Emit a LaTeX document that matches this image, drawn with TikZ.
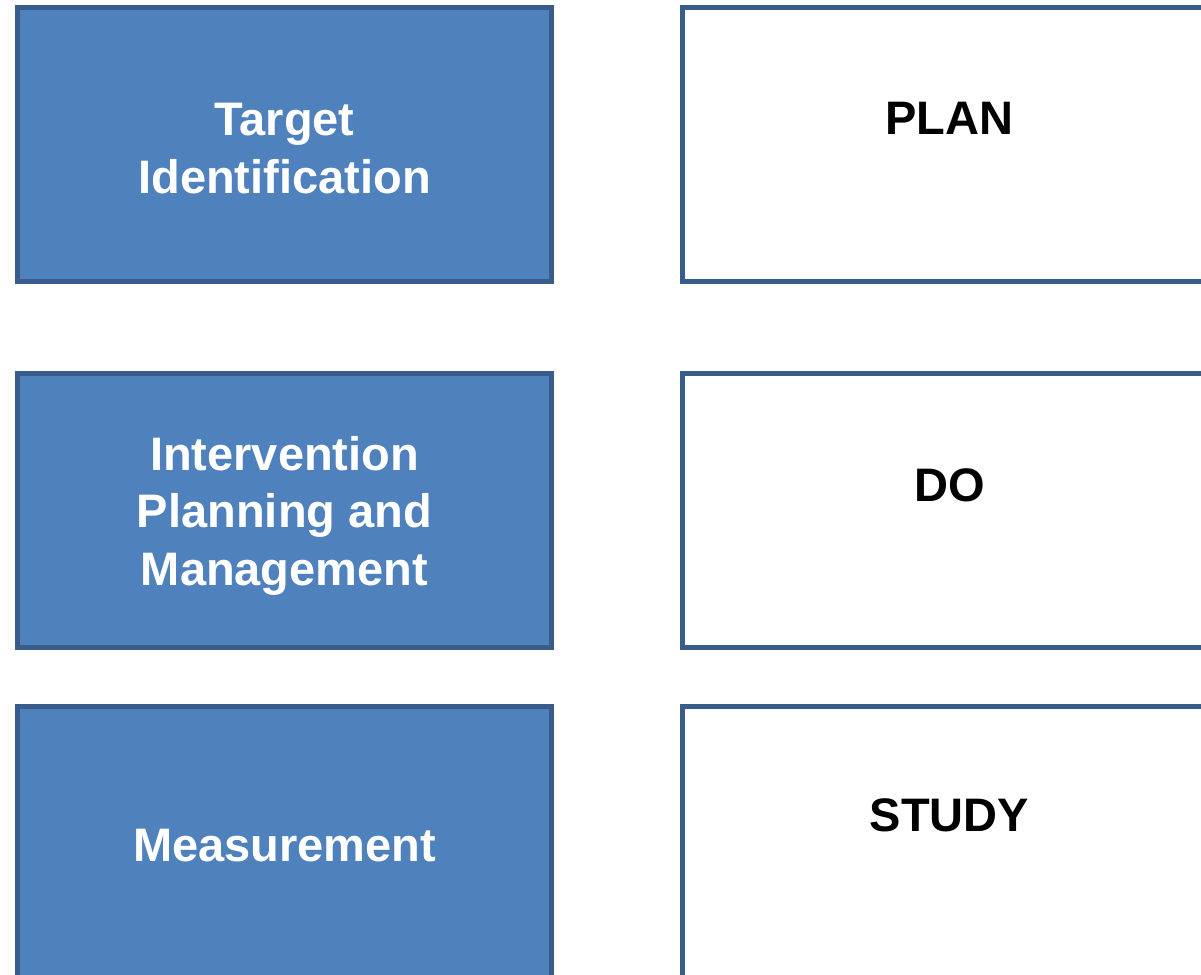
\documentclass[tikz,border=0pt]{standalone}
\usepackage{fontspec}
\setmainfont{Liberation Sans}
\definecolor{boxfill}{HTML}{4F81BD}
\definecolor{boxline}{HTML}{385D8A}
\begin{document}
\begin{tikzpicture}[x=1pt,y=1pt,
  stage/.style={rectangle, draw=boxline, line width=5pt, fill=boxfill, minimum width=534pt, minimum height=274pt, inner sep=0pt},
  stagetxt/.style={text=white, align=center, font=\fontsize{47}{57.5}\selectfont\bfseries},
  phase/.style={rectangle, draw=boxline, line width=5pt, fill=white, minimum width=534pt, minimum height=274pt, inner sep=0pt},
  phasetxt/.style={text=black, font=\fontsize{47}{57.5}\selectfont\bfseries}]
\useasboundingbox (0,0) rectangle (1201,-974);
\clip (0,0) rectangle (1201,-974);
\fill[white] (0,0) rectangle (1201,-974);
% left column
\node[stage] (target) at (284.5,-144.5){};
\node[stage] (interv) at (284.5,-510.8){};
\node[stage] (measure) at (284.5,-843.5){};
\node[stagetxt] (targettxt) at ([yshift=-4pt]target.center){Target\\Identification};
\node[stagetxt] (intervtxt) at ([yshift=-5pt]interv.center){Intervention\\Planning and\\Management};
\node[stagetxt] (measuretxt) at ([yshift=-2pt]measure.center){Measurement};
% right column
\node[phase] (plan) at (949.5,-144.5){};
\node[phase] (do) at (949.5,-510.8){};
\node[phase] (study) at (949.5,-843.5){};
\node[phasetxt] (plantxt) at ([yshift=-113pt]plan.north){PLAN};
\node[phasetxt] (dotxt) at ([yshift=-114pt]do.north){DO};
\node[phasetxt] (studytxt) at ([yshift=-111pt]study.north){STUDY};
\end{tikzpicture}
\end{document}
